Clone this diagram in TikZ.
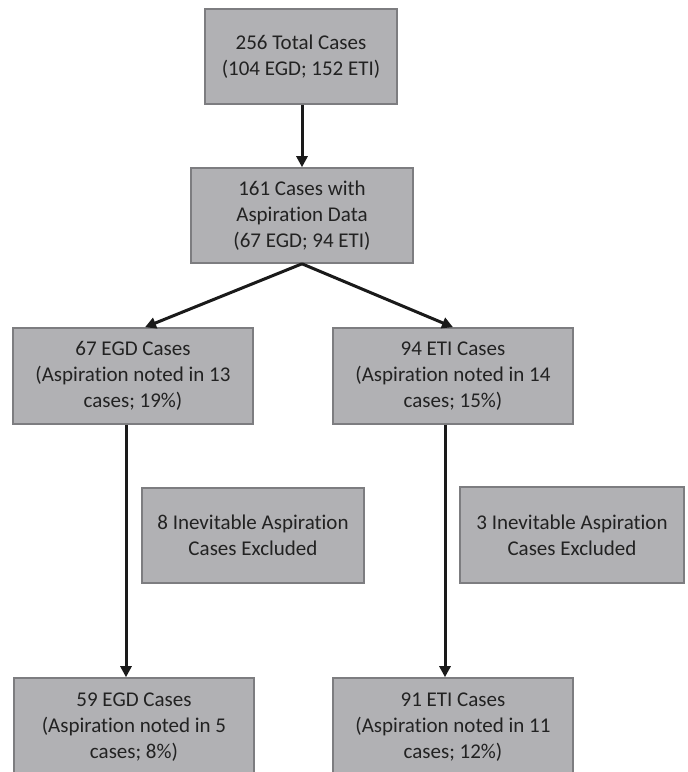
\documentclass[tikz,border=0pt]{standalone}
\usepackage{fontspec}
\setmainfont{Carlito}[Ligatures=NoCommon,RawFeature=-liga]
\usetikzlibrary{arrows.meta}
\definecolor{boxfill}{HTML}{B1B1B4}
\definecolor{boxline}{HTML}{7D7D80}
\definecolor{boxtext}{HTML}{222222}
\definecolor{arrowcol}{HTML}{1A1A1A}
\tikzset{
  flowbox/.style={draw=boxline, line width=1.6pt, fill=boxfill, text=boxtext,
    inner sep=0pt, align=center, font=\fontsize{21}{26}\selectfont},
  flowarrow/.style={draw=arrowcol, line width=3pt,
    -{Triangle[length=11pt,width=11pt]}, shorten >=0pt}
}
\begin{document}
\begin{tikzpicture}[x=1pt,y=-1pt]
\useasboundingbox (0,0) rectangle (688,772);
\fill[white] (0,0) rectangle (688,772);

\node[flowbox, minimum width=192pt, minimum height=95pt] (b1) at (301,56.5)
  {256 Total Cases\\(104 EGD; 152 ETI)};
\node[flowbox, minimum width=222pt, minimum height=95pt] (b2) at (302,215.5)
  {161 Cases with\\Aspiration Data\\(67 EGD; 94 ETI)};
\node[flowbox, minimum width=240pt, minimum height=96pt] (b3) at (133,376)
  {67 EGD Cases\\(Aspiration noted in 13\\cases; 19\%)};
\node[flowbox, minimum width=240pt, minimum height=96pt] (b4) at (453,376)
  {94 ETI Cases\\(Aspiration noted in 14\\cases; 15\%)};
\node[flowbox, minimum width=222pt, minimum height=95pt] (b5) at (253,535.5)
  {8 Inevitable Aspiration\\Cases Excluded};
\node[flowbox, minimum width=224pt, minimum height=96pt] (b6) at (572,535)
  {3 Inevitable Aspiration\\Cases Excluded};
\node[flowbox, minimum width=240pt, minimum height=98pt] (b7) at (134,727)
  {59 EGD Cases\\(Aspiration noted in 5\\cases; 8\%)};
\node[flowbox, minimum width=240pt, minimum height=98pt] (b8) at (453,727)
  {91 ETI Cases\\(Aspiration noted in 11\\cases; 12\%)};

\coordinate (tipL) at (145,0);
\coordinate (tipR) at (453,0);
\coordinate (downL) at (126,0);
\coordinate (downR) at (445,0);

\draw[flowarrow] (b1.south -| b2.north) -- (b2.north);
\draw[flowarrow] (b2.south) -- (b3.north -| tipL);
\draw[flowarrow] (b2.south) -- (b4.north -| tipR);
\draw[flowarrow] (b3.south -| downL) -- (b7.north -| downL);
\draw[flowarrow] (b4.south -| downR) -- (b8.north -| downR);
\end{tikzpicture}
\end{document}
